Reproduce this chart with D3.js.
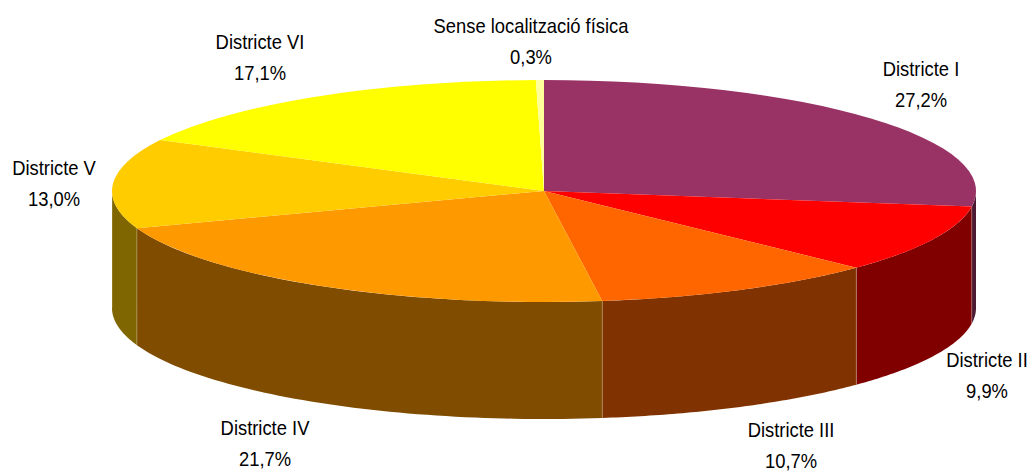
<!DOCTYPE html>
<html><head>
<meta charset="utf-8">
<script src="https://d3js.org/d3.v7.min.js"></script>
<style>
  html, body { margin: 0; padding: 0; background: #fff; }
  text { font-family: "Liberation Sans", Arial, sans-serif; fill: #000; }
</style>
</head>
<body>
<svg id="pie" width="1031" height="473"></svg>
<script>
const categories = ["Districte I", "Districte II", "Districte III", "Districte IV", "Districte V", "Districte VI", "Sense localització física"];
const shares = [27.2, 9.9, 10.7, 21.7, 13.0, 17.1, 0.3];
const colors = ["#993366", "#ff0000", "#ff6600", "#ff9900", "#ffcc00", "#ffff00", "#ffff99"];

// label centres and first baseline, placed by eye
const labelX = [921, 987, 791, 265, 54, 260, 531];
const labelY = [76, 367, 437, 435, 175, 49, 33];

const svg = d3.select("#pie");
const cx = 544, cy = 191, rx = 432, ry = 111, depth = 117;
const textScale = 0.875;

const pie = d3.pie().sort(null).value(d => d.share);
const slices = pie(categories.map((name, i) => ({ name: name, share: shares[i], color: colors[i], i: i })));

const ex = a => cx + rx * Math.sin(a);
const ey = a => cy - ry * Math.cos(a);
const line = d3.line();

// side walls: only the part of each slice on the front half of the ellipse
const walls = slices.map(s => {
  const a0 = Math.max(s.startAngle, Math.PI / 2);
  const a1 = Math.min(s.endAngle, Math.PI * 1.5);
  return { s: s, a0: a0, a1: a1 };
}).filter(w => w.a1 > w.a0);

function wallPath(w) {
  const n = 60;
  const top = d3.range(n + 1).map(k => {
    const a = w.a0 + (w.a1 - w.a0) * k / n;
    return [ex(a), ey(a)];
  });
  const bottom = top.slice().reverse().map(p => [p[0], p[1] + depth]);
  return line(top.concat(bottom)) + "Z";
}

// walls are the top colour at half brightness
function wallColor(w) {
  const c = d3.rgb(w.s.data.color);
  return d3.rgb(c.r / 2, c.g / 2, c.b / 2);
}

svg.append("g").selectAll("path").data(walls)
  .join("path")
  .attr("d", wallPath)
  .attr("fill", wallColor);

// light seams between the walls
svg.append("g").selectAll("line").data(walls)
  .join("line")
  .attr("x1", w => ex(w.a1)).attr("x2", w => ex(w.a1))
  .attr("y1", w => ey(w.a1)).attr("y2", w => ey(w.a1) + depth)
  .attr("stroke", "#fff").attr("stroke-opacity", 0.25).attr("stroke-width", 1);

// top face
const arc = d3.arc().innerRadius(0).outerRadius(rx);
svg.append("g")
  .attr("transform", "translate(" + cx + "," + cy + ") scale(1," + (ry / rx) + ")")
  .selectAll("path").data(slices)
  .join("path")
  .attr("d", arc)
  .attr("fill", d => d.data.color);

// labels
const labels = svg.append("g").selectAll("g").data(slices)
  .join("g")
  .attr("transform", d => "translate(" + labelX[d.data.i] + "," + labelY[d.data.i] + ") scale(" + textScale + ",1)")
  .attr("text-anchor", "middle")
  .attr("font-size", 21);
labels.append("text").text(d => d.data.name);
labels.append("text").attr("y", 31).text(d => d3.format(".1f")(d.data.share).replace(".", ",") + "%");
</script>
</body></html>
